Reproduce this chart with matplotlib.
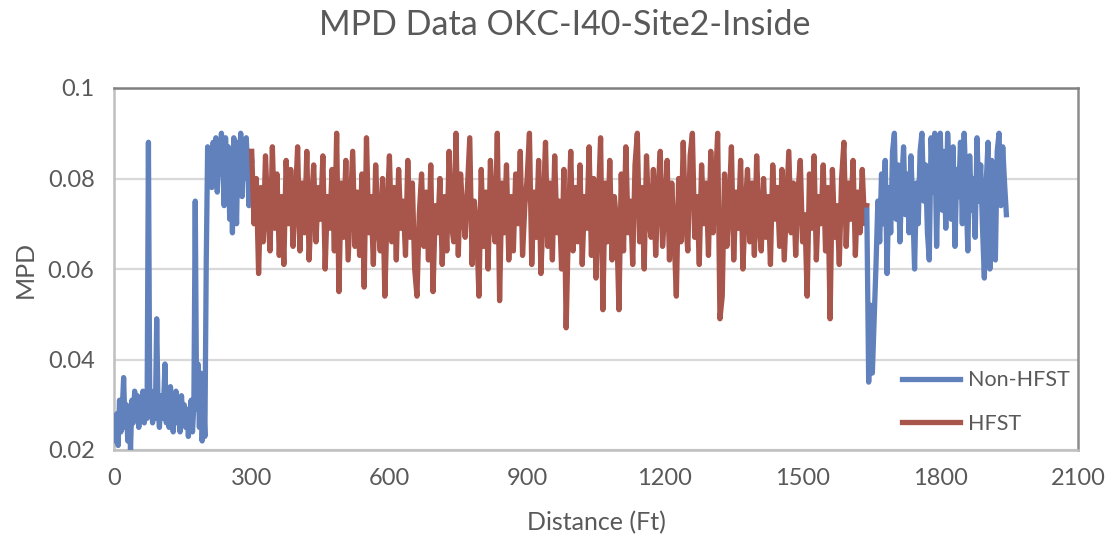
import numpy as np
import matplotlib
matplotlib.use("Agg")
import matplotlib.pyplot as plt

plt.rcParams['font.family'] = ['Lato', 'DejaVu Sans']

# MPD readings, one list per stretch of road
# Non-HFST before the treated section (every 3 ft from 0 ft)
start1, step1 = 0, 3
mpd_before = [
    0.026, 0.022, 0.028, 0.021, 0.031, 0.024, 0.029, 0.036, 0.025, 0.030,
    0.022, 0.028, 0.020, 0.031, 0.026, 0.033, 0.027, 0.032, 0.025, 0.030,
    0.028, 0.033, 0.026, 0.031, 0.027, 0.088, 0.028, 0.033, 0.026, 0.031,
    0.027, 0.049, 0.029, 0.025, 0.032, 0.027, 0.030, 0.039, 0.026, 0.031,
    0.025, 0.034, 0.028, 0.024, 0.030, 0.033, 0.026, 0.029, 0.024, 0.032,
    0.027, 0.030, 0.025, 0.029, 0.023, 0.028, 0.031, 0.024, 0.030, 0.075,
    0.029, 0.039, 0.025, 0.037, 0.022, 0.031, 0.023, 0.062, 0.087, 0.080,
    0.085, 0.078, 0.088, 0.082, 0.089, 0.077, 0.086, 0.081, 0.090, 0.084,
    0.074, 0.089, 0.079, 0.087, 0.071, 0.085, 0.068, 0.089, 0.078, 0.070,
    0.088, 0.082, 0.090, 0.076, 0.087, 0.080, 0.089, 0.083, 0.074, 0.086,
    0.084,
]

# HFST section (every 5 ft from 300 ft)
start2, step2 = 300, 5
mpd_hfst = [
    0.086, 0.070, 0.080, 0.059, 0.078, 0.066, 0.085, 0.072, 0.064, 0.087,
    0.069, 0.081, 0.063, 0.076, 0.061, 0.084, 0.070, 0.082, 0.065, 0.075,
    0.087, 0.064, 0.079, 0.068, 0.086, 0.062, 0.074, 0.083, 0.066, 0.078,
    0.071, 0.085, 0.060, 0.076, 0.069, 0.082, 0.064, 0.090, 0.055, 0.079,
    0.067, 0.084, 0.062, 0.074, 0.086, 0.065, 0.077, 0.063, 0.081, 0.056,
    0.089, 0.068, 0.076, 0.061, 0.083, 0.070, 0.064, 0.080, 0.054, 0.073,
    0.085, 0.066, 0.078, 0.062, 0.082, 0.069, 0.075, 0.063, 0.084, 0.067,
    0.079, 0.060, 0.054, 0.072, 0.081, 0.065, 0.077, 0.062, 0.083, 0.055,
    0.074, 0.068, 0.080, 0.061, 0.076, 0.064, 0.086, 0.070, 0.066, 0.090,
    0.063, 0.081, 0.072, 0.067, 0.078, 0.089, 0.061, 0.075, 0.069, 0.054,
    0.082, 0.065, 0.077, 0.060, 0.084, 0.071, 0.066, 0.090, 0.053, 0.079,
    0.068, 0.083, 0.062, 0.076, 0.064, 0.081, 0.070, 0.086, 0.063, 0.074,
    0.080, 0.090, 0.061, 0.077, 0.067, 0.084, 0.059, 0.073, 0.088, 0.065,
    0.079, 0.062, 0.085, 0.068, 0.075, 0.060, 0.082, 0.047, 0.070, 0.086,
    0.064, 0.078, 0.066, 0.083, 0.061, 0.076, 0.069, 0.087, 0.063, 0.080,
    0.058, 0.074, 0.089, 0.051, 0.079, 0.066, 0.084, 0.062, 0.076, 0.070,
    0.051, 0.081, 0.064, 0.087, 0.068, 0.075, 0.061, 0.083, 0.090, 0.066,
    0.078, 0.060, 0.085, 0.071, 0.067, 0.082, 0.063, 0.077, 0.086, 0.065,
    0.073, 0.084, 0.062, 0.079, 0.068, 0.054, 0.080, 0.066, 0.088, 0.071,
    0.064, 0.085, 0.090, 0.067, 0.076, 0.061, 0.083, 0.070, 0.079, 0.063,
    0.086, 0.068, 0.078, 0.090, 0.049, 0.054, 0.081, 0.065, 0.074, 0.087,
    0.062, 0.077, 0.069, 0.084, 0.060, 0.073, 0.082, 0.066, 0.079, 0.063,
    0.085, 0.070, 0.064, 0.080, 0.067, 0.076, 0.061, 0.083, 0.071, 0.078,
    0.065, 0.082, 0.062, 0.074, 0.086, 0.068, 0.079, 0.063, 0.077, 0.084,
    0.066, 0.072, 0.054, 0.081, 0.069, 0.085, 0.062, 0.076, 0.070, 0.083,
    0.064, 0.078, 0.049, 0.082, 0.067, 0.074, 0.061, 0.080, 0.088, 0.065,
    0.079, 0.071, 0.084, 0.063, 0.077, 0.068, 0.082, 0.070, 0.074,
]

# Non-HFST after the treated section (every 4 ft from 1640 ft)
start3, step3 = 1640, 4
mpd_after = [
    0.073, 0.035, 0.052, 0.037, 0.049, 0.061, 0.075, 0.066, 0.081, 0.070,
    0.084, 0.059, 0.078, 0.068, 0.086, 0.090, 0.071, 0.083, 0.066, 0.079,
    0.087, 0.072, 0.081, 0.068, 0.085, 0.074, 0.060, 0.079, 0.070, 0.086,
    0.090, 0.075, 0.083, 0.068, 0.062, 0.089, 0.077, 0.090, 0.065, 0.084,
    0.090, 0.073, 0.086, 0.069, 0.090, 0.080, 0.071, 0.087, 0.065, 0.082,
    0.076, 0.088, 0.070, 0.090, 0.078, 0.064, 0.085, 0.073, 0.080, 0.067,
    0.089, 0.075, 0.083, 0.069, 0.058, 0.079, 0.088, 0.060, 0.084, 0.071,
    0.062, 0.086, 0.090, 0.074, 0.087, 0.079, 0.072,
]

x_ticks = [0, 300, 600, 900, 1200, 1500, 1800, 2100]
y_ticks = [0.02, 0.04, 0.06, 0.08, 0.1]

blue = '#6181BD'
red = '#A8554B'
txt = '#595959'

d1 = start1 + step1 * np.arange(len(mpd_before))
d2 = start2 + step2 * np.arange(len(mpd_hfst))
d3 = start3 + step3 * np.arange(len(mpd_after))

fig = plt.figure(figsize=(11.1, 5.44), dpi=100)
ax = fig.add_axes([114 / 1110, 1 - 450 / 544, (1078 - 114) / 1110, (450 - 88) / 544])

lw = 3.8
l1, = ax.plot(d1, mpd_before, color=blue, lw=lw, zorder=3, label='Non-HFST')
l2, = ax.plot(d2, mpd_hfst, color=red, lw=lw, zorder=4, label='HFST')
ax.plot(d3, mpd_after, color=blue, lw=lw, zorder=5)

ax.set_xlim(0, 2100)
ax.set_ylim(0.02, 0.1)
ax.set_xticks(x_ticks)
ax.set_yticks(y_ticks)
ax.set_yticklabels(['0.02', '0.04', '0.06', '0.08', '0.1'])
ax.tick_params(length=0, labelsize=17, labelcolor=txt)
ax.tick_params(axis='x', pad=13)
ax.tick_params(axis='y', pad=14)

ax.yaxis.grid(True, color='#D9D9D9', lw=1.6, zorder=0)
ax.set_axisbelow(True)

ax.spines['left'].set_color('#BFBFBF')
ax.spines['bottom'].set_color('#BFBFBF')
ax.spines['top'].set_color('#808080')
ax.spines['right'].set_color('#8C8C8C')
for s in ax.spines.values():
    s.set_linewidth(1.8)

ax.set_xlabel('Distance (Ft)', fontsize=18, color=txt, labelpad=16)
ax.set_ylabel('MPD', fontsize=18, color=txt, labelpad=8)

fig.suptitle('MPD Data OKC-I40-Site2-Inside', x=565 / 1110, y=1 - 25 / 544,
             va='center', fontsize=24.5, color=txt)

ax.legend(handles=[l1, l2], loc='center left', frameon=False,
          bbox_to_anchor=((902 - 114) / 964, (450 - 402) / 362),
          borderaxespad=0, borderpad=0, handlelength=2.7, handletextpad=0.35,
          labelspacing=1.1, fontsize=15.5, labelcolor=txt)

fig.savefig('out.png', dpi=100)
